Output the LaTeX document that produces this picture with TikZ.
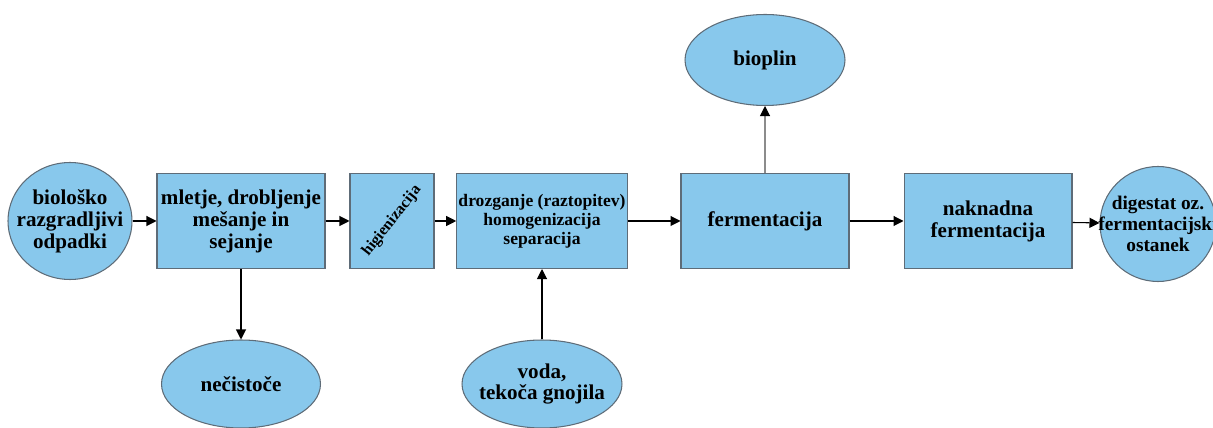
\documentclass[tikz,border=0pt]{standalone}
\usepackage{fontspec}
\setmainfont{Liberation Serif}
\usetikzlibrary{arrows.meta,shapes.geometric}
\definecolor{skyfill}{HTML}{88C8EC}
\definecolor{edgegrey}{HTML}{5E6C78}
\definecolor{arrgrey}{HTML}{8C8C8C}

\begin{document}
\begin{tikzpicture}[
  x=0.02cm, y=-0.02cm,
  font=\bfseries\fontsize{12}{12.5}\selectfont,
  stage/.style={
    draw=edgegrey, fill=skyfill, line width=0.6pt,
    minimum width=3.36cm, minimum height=1.9cm, align=center, inner sep=1pt
  },
  blob/.style={ellipse, draw=edgegrey, fill=skyfill, line width=0.6pt, align=center, inner sep=-12pt},
  small/.style={font=\bfseries\fontsize{10}{10.9}\selectfont},
  arr/.style={-{Triangle[length=2mm,width=2mm]}, draw=black, line width=0.6pt}
]
\useasboundingbox (0,0) rectangle (1213,428);

\node[blob, minimum width=2.48cm, minimum height=2.34cm] (src) at (70,221) {biološko\\razgradljivi\\odpadki};

\node[stage] (s1) at (241,221) {mletje, drobljenje\\mešanje in\\sejanje};
\node[stage, minimum width=1.68cm] (s2) at (392,221) {};
\node[font=\bfseries\fontsize{9}{10}\selectfont, rotate=52, inner sep=0pt] (s2txt) at (s2) {higienizacija};
\node[stage, small] (s3) at (542,221) {drozganje (raztopitev)\\homogenizacija\\separacija};
\node[stage] (s4) at (765,221) {fermentacija};
\node[stage] (s5) at (988,221) {naknadna\\fermentacija};

\node[blob, minimum width=2.32cm, minimum height=2.3cm, font=\bfseries\fontsize{11}{12}\selectfont] (out) at (1158,224) {digestat oz.\\fermentacijski\\ostanek};

\node[blob, minimum width=3.2cm, minimum height=1.82cm] (gas) at (765,60) {bioplin};
\node[blob, minimum width=3.18cm, minimum height=1.76cm] (waste) at (241,384) {nečistoče};
\node[blob, minimum width=3.2cm, minimum height=1.76cm] (water) at (542,384) {voda,\\tekoča gnojila};

\draw[arr] (src) -- (s1);
\draw[arr] (s1) -- (s2);
\draw[arr] (s2) -- (s3);
\draw[arr] (s3) -- (s4);
\draw[arr] (s4) -- (s5);
\draw[arr] (s5) -- (out);
\draw[arr] (s1) -- (waste);
\draw[arr] (water) -- (s3);
\draw[arr, draw=arrgrey, -{Triangle[length=2mm,width=2mm,color=black]}] (s4) -- (gas);

\end{tikzpicture}
\end{document}
